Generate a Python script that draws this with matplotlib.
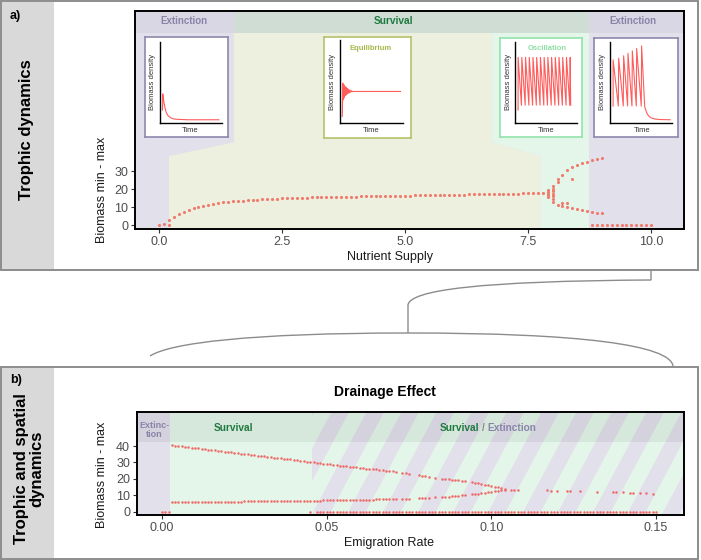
import numpy as np
import matplotlib.pyplot as plt
from matplotlib.patches import Rectangle, Polygon, PathPatch
from matplotlib.path import Path

plt.rcParams['font.family'] = ['Liberation Sans', 'DejaVu Sans']

W, H = 701, 560

# ---- panel a: min/max biomass over nutrient supply ----
supply = np.round(np.arange(0.0, 7.85, 0.1), 1)
biomass_main = [0.0, 0.6, 2.8, 4.6, 6.1, 7.4, 8.6, 9.4, 10.2, 10.8,
                11.4, 11.8, 12.2, 12.6, 12.9, 13.2, 13.4, 13.6, 13.8, 14.0,
                14.2, 14.3, 14.4, 14.6, 14.7, 14.8, 14.9, 15.0, 15.1, 15.2,
                15.3, 15.35, 15.4, 15.5, 15.55, 15.6, 15.65, 15.7, 15.75, 15.8,
                15.85, 15.9, 15.95, 16.0, 16.05, 16.1, 16.15, 16.2, 16.25, 16.3,
                16.35, 16.4, 16.45, 16.5, 16.55, 16.6, 16.65, 16.7, 16.75, 16.8,
                16.85, 16.9, 16.95, 17.0, 17.05, 17.1, 17.15, 17.2, 17.25, 17.3,
                17.35, 17.4, 17.45, 17.5, 17.55, 17.6, 17.65, 17.7, 17.75]
bif_supply = [7.9, 8.0, 8.1, 8.2, 8.3, 8.4, 8.5, 8.6, 8.7, 8.8, 8.9, 9.0]
bif_upper = [19.4, 21.5, 24.0, 28.0, 30.5, 32.2, 33.4, 34.5, 35.3, 35.9, 36.5, 37.0]
bif_lower = [15.5, 13.0, 11.0, 10.4, 9.8, 9.2, 8.7, 8.1, 7.6, 7.2, 6.8, 6.5]
stack_supply = [7.9, 7.9, 7.9, 8.0, 8.0, 8.0, 8.0, 8.0, 8.1, 8.2, 8.3, 8.4]
stack_biomass = [16.5, 17.5, 18.5, 14.5, 16.0, 17.5, 19.0, 20.3, 25.5, 12.5, 12.4, 25.5]
zero_supply = [0.2, 8.8, 8.9, 9.0, 9.1, 9.2, 9.3, 9.4, 9.5, 9.6, 9.7, 9.8, 9.9, 10.0]

# ---- panel b: min/max biomass over emigration rate ----
emig = np.round(np.arange(0.003, 0.1045, 0.001), 3)
nan = np.nan
upper_b = [40.5, 40.3, 40.0, 39.8, 39.5, 39.3, 39.0, 38.8, 38.6, 38.3,
           38.1, 37.8, 37.6, 37.3, 37.1, 36.9, 36.6, 36.4, 36.1, 35.9,
           35.6, 35.4, 35.2, 34.9, 34.7, 34.4, 34.2, 33.9, 33.7, 33.5,
           33.2, 33.0, 32.7, 32.5, 32.2, 32.0, 31.8, 31.5, 31.3, 31.0,
           30.8, 30.5, 30.3, 30.1, 29.8, 29.6, 29.3, 29.1, 28.8, 28.6,
           28.4, 28.1, 27.9, 27.6, 27.4, 27.2, 27.0, 26.8, 26.5, 26.3,
           26.1, 25.9, 25.7, 25.5, 25.2, 25.0, 24.8, 24.6, 24.4, nan,
           23.8, 23.5, 23.2, nan, nan, 22.3, 22.0, 21.6, 21.3, nan,
           20.7, nan, 20.2, 20.0, 19.8, 19.5, 19.3, 19.1, 18.8, 18.6,
           nan, 18.0, 17.6, 17.3, 16.9, 16.5, 16.1, 15.7, 15.2, 14.8,
           14.3, 13.6]
lower_b = [5.7, 5.7, 5.8, 5.8, 5.8, 5.8, 5.9, 5.9, 5.9, 5.9,
           6.0, 6.0, 6.0, 6.0, 6.1, 6.1, 6.1, 6.1, 6.2, 6.2,
           6.2, 6.2, 6.3, 6.3, 6.3, 6.3, 6.4, 6.4, 6.4, 6.4,
           6.5, 6.5, 6.5, 6.5, 6.6, 6.6, 6.6, 6.6, 6.7, 6.7,
           6.7, 6.7, 6.8, 6.8, 6.8, 6.8, 6.9, 6.9, 6.9, 6.9,
           7.0, 7.0, 7.0, 7.0, 7.1, 7.1, 7.2, 7.2, 7.3, 7.3,
           7.4, 7.4, 7.5, 7.5, 7.6, 7.6, 7.7, 7.7, 7.8, nan,
           7.9, 8.0, 8.0, nan, nan, 8.2, 8.3, 8.4, 8.5, nan,
           8.7, nan, 8.9, 9.1, 9.2, 9.4, 9.5, 9.7, 9.9, 10.0,
           nan, 10.5, 10.7, 11.0, 11.3, 11.6, 11.9, 12.2, 12.6, 12.9,
           13.2, 13.5]
tail_emig = [0.106, 0.107, 0.108, 0.117, 0.118, 0.120, 0.123, 0.124, 0.127,
             0.132, 0.137, 0.138, 0.140, 0.142, 0.143, 0.145, 0.147, 0.149]
tail_biomass = [13.2, 13.2, 13.1, 13.0, 12.9, 12.9, 12.7, 12.7, 12.6,
                12.2, 11.9, 11.8, 11.7, 11.5, 11.4, 11.2, 11.1, 10.9]
zero_emig = [0.000, 0.001, 0.002, 0.045] + list(np.round(np.arange(0.047, 0.1505, 0.001), 3))

# ---- inset time series (normalised schematic curves) ----
ext1_t = [0.04, 0.045, 0.06, 0.08, 0.10, 0.13, 0.17, 0.22, 0.30, 0.45, 0.95]
ext1_y = [0.16, 0.36, 0.27, 0.19, 0.13, 0.09, 0.065, 0.05, 0.045, 0.04, 0.04]
equi_t = [0.037, 0.045, 0.055, 0.062, 0.07, 0.078, 0.086, 0.094, 0.102, 0.11,
          0.118, 0.126, 0.134, 0.142, 0.15, 0.16, 0.17, 0.18, 0.20, 0.22, 0.96]
equi_y = [0.08, 0.48, 0.28, 0.46, 0.31, 0.44, 0.33, 0.43, 0.34, 0.42,
          0.35, 0.41, 0.36, 0.40, 0.365, 0.395, 0.37, 0.39, 0.378, 0.38, 0.38]
osc_peaks = [0.05, 0.11, 0.17, 0.23, 0.29, 0.35, 0.41, 0.47, 0.53, 0.59,
             0.65, 0.71, 0.77, 0.83, 0.89]
osc_high, osc_low, osc_start = 0.81, 0.22, 0.16
ext2_peaks = [0.05, 0.14, 0.22, 0.29, 0.36, 0.43, 0.51]
ext2_high = [0.78, 0.80, 0.83, 0.86, 0.89, 0.92, 0.95]
ext2_low = 0.21
ext2_decay_t = [0.56, 0.59, 0.62, 0.66, 0.72, 0.80, 0.97]
ext2_decay_y = [0.2, 0.13, 0.09, 0.065, 0.05, 0.043, 0.04]

# colours
DOT = '#f07b6c'
DOT_B = '#ee6a68'
PURPLE = '#e2e0ea'
PURPLE_HEAD = '#d9d7e3'
YELLOW = '#edf0de'
LGREEN = '#e4f6e9'
SURV_HEAD = '#d0ddd5'
TXT_PURPLE = '#8a84aa'
TXT_GREEN = '#1f7a40'
CURVE = '#ff5c5c'

fig = plt.figure(figsize=(W / 100, H / 100), dpi=100)


def px_axes(l, t, r, b):
    return fig.add_axes([l / W, 1 - b / H, (r - l) / W, (b - t) / H])


def ftext(x, y, s, **kw):
    kw.setdefault('zorder', 10)
    return fig.text(x / W, 1 - y / H, s, **kw)


# background layer: panel frames, side strips, connector
bg = fig.add_axes([0, 0, 1, 1])
bg.set_xlim(0, W)
bg.set_ylim(H, 0)
bg.axis('off')
bg.set_zorder(0)
for top, bottom in [(1, 270), (367, 559)]:
    bg.add_patch(Rectangle((1, top), 697, bottom - top, facecolor='white',
                           edgecolor='#8c8c8c', lw=1.4))
    bg.add_patch(Rectangle((1.7, top + 0.7), 52, bottom - top - 1.4,
                           facecolor='#d9d9d9', edgecolor='none'))
conn = Path([(651, 270), (651, 280), (480, 281), (410, 290), (408, 305), (408, 333)],
            [Path.MOVETO, Path.LINETO, Path.CURVE4, Path.CURVE4, Path.CURVE4, Path.LINETO])
bg.add_patch(PathPatch(conn, facecolor='none', edgecolor='#8c8c8c', lw=1.0))
brace = Path([(150, 356), (170, 343), (250, 333), (408, 333), (580, 333), (670, 345), (673, 366)],
             [Path.MOVETO, Path.CURVE4, Path.CURVE4, Path.CURVE4, Path.CURVE4, Path.CURVE4, Path.CURVE4])
bg.add_patch(PathPatch(brace, facecolor='none', edgecolor='#8c8c8c', lw=1.0))

ftext(10, 16, 'a)', fontsize=9, fontweight='bold', va='center')
ftext(27, 130, 'Trophic dynamics', fontsize=12, fontweight='bold', rotation=90,
      ha='center', va='center')
ftext(10, 380, 'b)', fontsize=9, fontweight='bold', va='center')
ftext(29, 469, 'Trophic and spatial\ndynamics', fontsize=12, fontweight='bold',
      rotation=90, ha='center', va='center', linespacing=1.0)


def style_axes(ax):
    for s in ax.spines.values():
        s.set_color('black')
        s.set_linewidth(1.4)
        s.set_zorder(6)
    ax.tick_params(direction='out', length=3, width=0.8, color='#333333',
                   labelcolor='#4d4d4d', labelsize=9, pad=2)


# ---- panel a ----
ax = px_axes(135, 11, 684, 229)
ax.set_zorder(1)
ax.set_xlim(-0.49, 10.67)
ax.set_ylim(-2.2, 119)
ax.set_facecolor(PURPLE)
head_a = 107
ax.add_patch(Polygon([(1.52, head_a), (6.77, head_a), (6.77, 46), (7.76, 38.3),
                      (7.76, -10), (0.2, -10), (0.2, 38.3), (1.52, 46)],
                     facecolor=YELLOW, edgecolor='none', zorder=0))
ax.add_patch(Polygon([(6.77, head_a), (8.74, head_a), (8.74, -10), (7.76, -10),
                      (7.76, 38.3), (6.77, 46)],
                     facecolor=LGREEN, edgecolor='none', zorder=0))
ax.add_patch(Rectangle((-1, head_a), 2.52, 20, facecolor=PURPLE_HEAD, edgecolor='none', zorder=0))
ax.add_patch(Rectangle((1.52, head_a), 7.22, 20, facecolor=SURV_HEAD, edgecolor='none', zorder=0))
ax.add_patch(Rectangle((8.74, head_a), 3, 20, facecolor=PURPLE_HEAD, edgecolor='none', zorder=0))

ax.scatter(supply, biomass_main, s=5, color=DOT, lw=0, zorder=3)
ax.scatter(bif_supply, bif_upper, s=5, color=DOT, lw=0, zorder=3)
ax.scatter(bif_supply, bif_lower, s=5, color=DOT, lw=0, zorder=3)
ax.scatter(stack_supply, stack_biomass, s=5, color=DOT, lw=0, zorder=3)
ax.scatter(zero_supply, np.zeros(len(zero_supply)), s=5, color=DOT, lw=0, zorder=3)
ax.set_xticks([0, 2.5, 5, 7.5, 10])
ax.set_xticklabels(['0.0', '2.5', '5.0', '7.5', '10.0'])
ax.set_yticks([0, 10, 20, 30])
style_axes(ax)

ftext(184, 21, 'Extinction', fontsize=7, fontweight='bold', color=TXT_PURPLE, ha='center', va='center')
ftext(393, 21, 'Survival', fontsize=7.3, fontweight='bold', color=TXT_GREEN, ha='center', va='center')
ftext(633, 21, 'Extinction', fontsize=7, fontweight='bold', color=TXT_PURPLE, ha='center', va='center')
ftext(102, 190, 'Biomass min - max', fontsize=9, rotation=90, ha='center', va='center', color='#1a1a1a')
ftext(390, 257, 'Nutrient Supply', fontsize=9, ha='center', va='center', color='#1a1a1a')


# ---- insets ----
def inset(box, inner, edge, t, y, lab_x, time_x):
    bx = px_axes(*box)
    bx.set_zorder(5)
    bx.set_xticks([])
    bx.set_yticks([])
    bx.set_facecolor('white')
    for s in bx.spines.values():
        s.set_color(edge)
        s.set_linewidth(1.2)
    ix = px_axes(*inner)
    ix.set_zorder(6)
    ix.patch.set_alpha(0)
    ix.plot(t, y, color=CURVE, lw=0.8)
    ix.set_xlim(0, 1)
    ix.set_ylim(0, 1)
    ix.set_xticks([])
    ix.set_yticks([])
    ix.spines['top'].set_visible(False)
    ix.spines['right'].set_visible(False)
    for s in ('left', 'bottom'):
        ix.spines[s].set_linewidth(1.0)
    ftext(lab_x, 82, 'Biomass density', fontsize=5.5, rotation=90, ha='center', va='center', color='#333333')
    ftext(time_x, 130, 'Time', fontsize=5.5, ha='center', va='center', color='#333333')


osc_t, osc_y = [osc_peaks[0]], [osc_start]
for i, p in enumerate(osc_peaks):
    osc_t.append(p)
    osc_y.append(osc_high)
    nxt = osc_peaks[i + 1] - 0.006 if i + 1 < len(osc_peaks) else p + 0.008
    osc_t.append(nxt)
    osc_y.append(osc_low)

ext2_t, ext2_y = [ext2_peaks[0]], [ext2_low]
for i, p in enumerate(ext2_peaks):
    ext2_t.append(p)
    ext2_y.append(ext2_high[i])
    if i + 1 < len(ext2_peaks):
        ext2_t.append(ext2_peaks[i + 1] - 0.006)
        ext2_y.append(ext2_low)
ext2_t += ext2_decay_t
ext2_y += ext2_decay_y

inset((145, 37, 228, 137), (160, 42, 222, 123), '#8e88ad', ext1_t, ext1_y, 152, 190)
inset((324, 37, 411, 138), (340, 40, 403, 123), '#b3c36b', equi_t, equi_y, 333, 371)
inset((500, 38, 582, 137), (515, 42, 577, 123), '#92e3ab', osc_t, osc_y, 508, 546)
inset((594, 38, 678, 137), (610, 42, 672, 123), '#8e88ad', ext2_t, ext2_y, 602, 642)
ftext(371, 48, 'Equilibrium', fontsize=5.5, fontweight='bold', color='#a8b84a', ha='center', va='center')
ftext(547, 48, 'Oscillation', fontsize=5.5, fontweight='bold', color='#8ddea3', ha='center', va='center')

# ---- panel b ----
bx = px_axes(137, 412, 684, 515)
bx.set_zorder(1)
xl = (-0.0076, 0.1585)
bx.set_xlim(*xl)
bx.set_ylim(-2.0, 60.7)
bx.set_facecolor(PURPLE)
b_surv, b_mix, head_b = 0.0024, 0.0454, 42.6
bx.add_patch(Rectangle((b_surv, -10), 1, 100, facecolor=LGREEN, edgecolor='none', zorder=0))
x_ax0 = (b_mix - xl[0]) / (xl[1] - xl[0])
clip = Rectangle((x_ax0, 0), 1 - x_ax0, 1, transform=bx.transAxes)
period, width, shift = 35 / 547, 17.5 / 547, 55 / 547
for k in range(-3, 16):
    x0 = x_ax0 + k * period
    stripe = Polygon([(x0, 0), (x0 + width, 0), (x0 + width + shift, 1), (x0 + shift, 1)],
                     transform=bx.transAxes, facecolor=PURPLE, edgecolor='none', zorder=0)
    bx.add_patch(stripe)
    stripe.set_clip_path(clip)
bx.add_patch(Rectangle((-1, head_b), 2, 40, facecolor='black', alpha=0.06, edgecolor='none', zorder=1))

bx.scatter(emig, upper_b, s=3.2, color=DOT_B, lw=0, zorder=3)
bx.scatter(emig, lower_b, s=3.2, color=DOT_B, lw=0, zorder=3)
bx.scatter(tail_emig, tail_biomass, s=3.2, color=DOT_B, lw=0, zorder=3)
bx.scatter(zero_emig, np.zeros(len(zero_emig)), s=3.2, color=DOT_B, lw=0, zorder=3)
bx.set_xticks([0, 0.05, 0.10, 0.15])
bx.set_xticklabels(['0.00', '0.05', '0.10', '0.15'])
bx.set_yticks([0, 10, 20, 30, 40])
style_axes(bx)

ftext(385, 392, 'Drainage Effect', fontsize=10, fontweight='bold', ha='center', va='center')
ftext(154, 430, 'Extinc-\ntion', fontsize=6.5, fontweight='bold', color=TXT_PURPLE,
      ha='center', va='center', linespacing=1.1)
ftext(233, 428, 'Survival', fontsize=7.3, fontweight='bold', color=TXT_GREEN, ha='center', va='center')
ftext(479, 428, 'Survival', fontsize=7.3, fontweight='bold', color=TXT_GREEN, ha='right', va='center')
ftext(483.3, 428, '/', fontsize=7.3, fontweight='bold', color='#888888', ha='center', va='center')
ftext(487.7, 428, 'Extinction', fontsize=7.3, fontweight='bold', color=TXT_PURPLE, ha='left', va='center')
ftext(102, 475, 'Biomass min - max', fontsize=9, rotation=90, ha='center', va='center', color='#1a1a1a')
ftext(389, 543, 'Emigration Rate', fontsize=9, ha='center', va='center', color='#1a1a1a')

fig.savefig('out.png', dpi=100)
